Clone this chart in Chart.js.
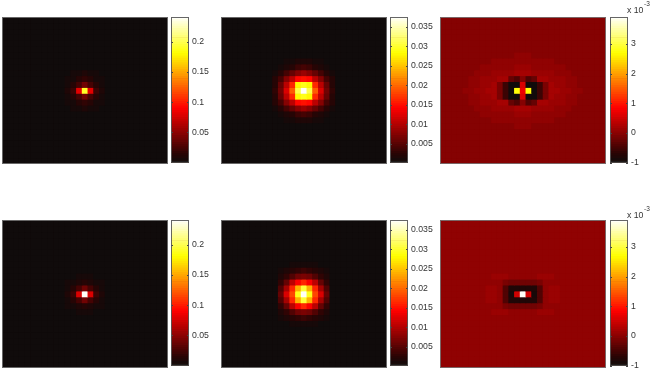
<!DOCTYPE html>
<html><head><meta charset="utf-8">
<style>
html,body{margin:0;padding:0;background:#fff;width:654px;height:374px;overflow:hidden}
canvas{position:absolute;display:block}
canvas.cells{filter:blur(.35px)}
</style>
<script src="https://cdn.jsdelivr.net/npm/chart.js@4"></script>
</head><body>
<script>
const colCount = 29, rowCount = 25;
const colLabels = Array.from({length: colCount}, (_, i) => String(i + 1));

// Panel 1 (top-left), central cells; every other cell holds base1
const base1 = 0.0005;
const patch1 = [
 [.002,.004,.005,.008,.005,.004,.002],
 [.004,.007,.012,.018,.012,.007,.004],
 [.006,.012,.026,.04,.026,.012,.006],
 [.008,.02,.08,.19,.08,.02,.008],
 [.006,.012,.026,.04,.026,.012,.006],
 [.004,.007,.012,.018,.012,.007,.004],
 [.002,.004,.005,.008,.005,.004,.002]
];
// Panel 2 (top-middle)
const base2 = 0.0003;
const patch2 = [
 [.0004,.0005,.0008,.001,.0014,.0016,.0014,.001,.0008,.0005,.0004],
 [.0007,.001,.0018,.0025,.0032,.0038,.0032,.0025,.0018,.001,.0007],
 [.001,.002,.0038,.0055,.0075,.0085,.0075,.0055,.0038,.002,.001],
 [.002,.0038,.0075,.0105,.0145,.015,.0145,.0105,.0075,.0038,.002],
 [.0025,.0055,.0105,.016,.028,.029,.028,.016,.0105,.0055,.0025],
 [.003,.0065,.012,.019,.031,.037,.031,.019,.012,.0065,.003],
 [.0025,.0055,.0105,.016,.028,.029,.028,.016,.0105,.0055,.0025],
 [.002,.0038,.0075,.0105,.0145,.015,.0145,.0105,.0075,.0038,.002],
 [.001,.002,.0038,.0055,.0075,.0085,.0075,.0055,.0038,.002,.001],
 [.0007,.001,.0018,.0025,.0032,.0038,.0032,.0025,.0018,.001,.0007],
 [.0004,.0005,.0008,.001,.0014,.0016,.0014,.001,.0008,.0005,.0004]
];
// Panel 3 (top-right), units of 1e-3
const o = -.06, p = -.01, q = .06, r = .14, s = .22;
const rowA = [p,p,p,p,p,p,p,o,o,o,o,o,o,o,o,o,o,o,o,o,o,o,p,p,p,p,p,p,p];
const rowB = [p,p,p,p,o,o,o,o,o,o,o,o,o,o,o,o,o,o,o,o,o,o,o,o,o,p,p,p,p];
const rowC = [p,p,o,o,o,o,o,o,o,o,o,o,o,o,o,o,o,o,o,o,o,o,o,o,o,o,o,p,p];
const rowD = [p,o,o,o,o,o,o,o,o,o,o,o,o,o,o,o,o,o,o,o,o,o,o,o,o,o,o,o,p];
const rowE = [o,o,o,o,o,o,o,o,o,o,o,o,o,o,o,o,o,o,o,o,o,o,o,o,o,o,o,o,o];
const row6 = [o,o,o,o,o,o,o,o,o,o,o,o,o,q,q,q,o,o,o,o,o,o,o,o,o,o,o,o,o];
const row7 = [o,o,o,o,o,o,o,o,o,q,q,q,q,q,q,q,q,q,q,q,o,o,o,o,o,o,o,o,o];
const row8 = [o,o,o,o,o,o,o,q,q,q,q,q,q,r,r,r,q,q,q,q,q,q,o,o,o,o,o,o,o];
const row9 = [o,o,o,o,o,o,q,q,q,r,r,r,r,s,s,s,r,r,r,r,q,q,q,o,o,o,o,o,o];
const row10 = [o,o,o,o,o,q,q,r,r,r,s,s,-.25,-.45,-.05,-.45,-.25,s,s,r,r,r,q,q,o,o,o,o,o];
const row11 = [o,o,o,o,o,q,q,r,r,s,-.15,-.6,-.95,-.95,.55,-.95,-.95,-.6,-.15,s,r,r,q,q,o,o,o,o,o];
const row12 = [o,o,o,o,q,q,r,r,s,s,-.15,-.6,-.95,2.75,.75,2.75,-.95,-.6,-.15,s,s,r,r,q,q,o,o,o,o];
const grid3 = [rowA,rowB,rowC,rowD,rowE,rowE,row6,row7,row8,row9,row10,row11,row12,row11,row10,row9,row8,row7,row6,rowE,rowE,rowE,rowD,rowC,rowA];
// Panel 4 (bottom-left)
const base4 = 0.0005;
const patch4 = [
 [.002,.003,.004,.006,.004,.003,.002],
 [.004,.006,.01,.014,.01,.006,.004],
 [.006,.012,.025,.038,.025,.012,.006],
 [.008,.02,.078,.24,.078,.02,.008],
 [.006,.012,.025,.038,.025,.012,.006],
 [.004,.006,.01,.014,.01,.006,.004],
 [.002,.003,.004,.006,.004,.003,.002]
];
// Panel 5 (bottom-middle)
const base5 = 0.0003;
const patch5 = [
 [.0005,.0006,.0008,.001,.0012,.001,.0008,.0006,.0005],
 [.0009,.0014,.002,.0028,.0032,.0028,.002,.0014,.0009],
 [.0018,.003,.0045,.0062,.007,.0062,.0045,.003,.0018],
 [.0028,.0058,.0105,.014,.016,.014,.0105,.0058,.0028],
 [.0045,.009,.016,.024,.03,.024,.016,.009,.0045],
 [.006,.012,.018,.029,.0375,.029,.018,.012,.006],
 [.0045,.009,.016,.024,.03,.024,.016,.009,.0045],
 [.0028,.0058,.0105,.014,.016,.014,.0105,.0058,.0028],
 [.0018,.003,.0045,.0062,.007,.0062,.0045,.003,.0018],
 [.0009,.0014,.002,.0028,.0032,.0028,.002,.0014,.0009],
 [.0005,.0006,.0008,.001,.0012,.001,.0008,.0006,.0005]
];
// Panel 6 (bottom-right), units of 1e-3
const base6 = 0;
const patch6 = [
 [0,.1,.1,.1,0,0,0,0,0,.1,.1,.1,0],
 [0,0,0,-.1,-.2,-.2,-.2,-.2,-.2,-.1,0,0,0],
 [.1,.1,0,-.45,-.8,-.8,-.8,-.8,-.8,-.45,0,.1,.1],
 [.1,.1,0,-.45,-.85,.47,3.9,.47,-.85,-.45,0,.1,.1],
 [.1,.1,0,-.45,-.8,-.8,-.8,-.8,-.8,-.45,0,.1,.1],
 [0,0,0,-.1,-.2,-.2,-.2,-.2,-.2,-.1,0,0,0],
 [0,.1,.1,.1,0,0,0,0,0,.1,.1,.1,0]
];

// Colour bars
const range1 = [0, 0.2407], range2 = [0.0002, 0.0375], range3 = [-1, 3.9];
const ticks1 = [0.05, 0.1, 0.15, 0.2];
const ticks2 = [0.005, 0.01, 0.015, 0.02, 0.025, 0.03, 0.035];
const ticks3 = [-1, 0, 1, 2, 3];
const levelCount = 64;
const colourStops = [[0,[12,12,12]],[.06,[41,4,4]],[.375,[255,0,0]],[.75,[255,255,0]],[1,[255,255,255]]];

function colourAt(t) {
  t = Math.max(0, Math.min(.9999, t));
  t = (Math.floor(t * levelCount) + .5) / levelCount;
  for (let i = 1; i < colourStops.length; i++) {
    const [a, ca] = colourStops[i-1], [b, cb] = colourStops[i];
    if (t <= b) {
      const f = (t - a) / (b - a);
      return `rgb(${ca.map((c, k) => Math.round(c + (cb[k] - c) * f)).join(',')})`;
    }
  }
  return 'rgb(255,255,255)';
}
function expand(base, patch) {
  const top = (rowCount - patch.length) / 2, left = (colCount - patch[0].length) / 2;
  return Array.from({length: rowCount}, (_, y) => Array.from({length: colCount}, (_, x) => {
    const row = patch[y - top];
    return row && row[x - left] !== undefined ? row[x - left] : base;
  }));
}
function place(x, y, w, h, cls) {
  const c = document.createElement('canvas');
  c.width = w; c.height = h;
  if (cls) c.className = cls;
  c.style.left = x + 'px'; c.style.top = y + 'px';
  c.style.width = w + 'px'; c.style.height = h + 'px';
  document.body.appendChild(c);
  return c;
}
const frame = colour => ({
  id: 'frame',
  afterDraw(chart) {
    const a = chart.chartArea, g = chart.ctx;
    g.save(); g.strokeStyle = colour; g.lineWidth = 1;
    g.strokeRect(a.left + .5, a.top + .5, a.right - a.left - 1, a.bottom - a.top - 1);
    g.restore();
  }
});
const backdrop = colour => ({
  id: 'backdrop',
  beforeDatasetsDraw(chart) {
    const a = chart.chartArea, g = chart.ctx;
    g.save(); g.fillStyle = colour;
    g.fillRect(a.left, a.top, a.right - a.left, a.bottom - a.top);
    g.restore();
  }
});
function heatmap(x, y, w, h, grid, range, baseValue) {
  const tone = v => colourAt((v - range[0]) / (range[1] - range[0]));
  const datasets = grid.map((row, ri) => ({
    data: row.map(() => [ri, ri + 1]),
    backgroundColor: row.map(tone),
    borderWidth: 0, categoryPercentage: 1, barPercentage: 1, grouped: false
  }));
  new Chart(place(x, y, w, h, 'cells'), {
    type: 'bar',
    data: {labels: colLabels, datasets},
    options: {
      responsive: false, animation: false, devicePixelRatio: 1,
      plugins: {legend: {display: false}, tooltip: {enabled: false}},
      layout: {padding: 0},
      scales: {
        x: {display: false},
        y: {display: false, min: 0, max: rowCount, reverse: true}
      }
    },
    plugins: [backdrop(tone(baseValue)), frame('rgba(120,120,120,.85)')]
  });
}
function colourbar(x, y, h, range, ticks, noteY) {
  const padTop = 16, padBottom = 6, barW = 18, axisW = 34;
  const step = (range[1] - range[0]) / levelCount;
  const datasets = Array.from({length: levelCount}, (_, i) => ({
    data: [[range[0] + i * step, range[0] + (i + 1) * step]],
    backgroundColor: colourAt((i + .5) / levelCount),
    borderWidth: 0, categoryPercentage: 1, barPercentage: 1, grouped: false
  }));
  const marks = {
    id: 'marks',
    afterDraw(chart) {
      const a = chart.chartArea, g = chart.ctx, sc = chart.scales.y;
      g.save(); g.strokeStyle = '#444'; g.lineWidth = 1;
      ticks.forEach(v => {
        const py = Math.round(sc.getPixelForValue(v)) + .5;
        g.beginPath();
        g.moveTo(a.left, py); g.lineTo(a.left + 2, py);
        g.moveTo(a.right, py); g.lineTo(a.right - 2, py);
        g.stroke();
      });
      g.restore();
      if (noteY !== undefined) {
        g.save(); g.fillStyle = '#333'; g.textBaseline = 'alphabetic';
        g.font = '8.7px "Liberation Sans"';
        g.fillText('x 10', a.left + 17, a.top - noteY);
        g.font = '6.5px "Liberation Sans"';
        g.fillText('-3', a.left + 34, a.top - noteY - 7);
        g.restore();
      }
    }
  };
  new Chart(place(x, y - padTop, barW + axisW, h + padTop + padBottom), {
    type: 'bar',
    data: {labels: ['bar'], datasets},
    options: {
      responsive: false, animation: false, devicePixelRatio: 1,
      plugins: {legend: {display: false}, tooltip: {enabled: false}},
      layout: {padding: {top: padTop, bottom: padBottom, left: 0, right: 0}},
      scales: {
        x: {display: false},
        y: {
          position: 'right', min: range[0], max: range[1],
          grid: {display: false, drawTicks: false, tickLength: 0}, border: {display: false},
          afterBuildTicks: sc => { sc.ticks = ticks.map(value => ({value})); },
          afterFit: sc => { sc.width = axisW; },
          ticks: {
            padding: 3, color: '#333', autoSkip: false,
            font: {family: '"Liberation Sans"', size: 8.7},
            callback: v => String(v)
          }
        }
      }
    },
    plugins: [backdrop('#a03000'), marks, frame('rgba(85,85,85,.9)')]
  });
}

const tops = [17, 220], panelH = [147, 148], barH = [148, 148];
heatmap(2, tops[0], 166, panelH[0], expand(base1, patch1), range1, base1);
heatmap(221, tops[0], 166, panelH[0], expand(base2, patch2), range2, base2);
heatmap(440, tops[0], 166, panelH[0], grid3, range3, o);
heatmap(2, tops[1], 166, panelH[1], expand(base4, patch4), range1, base4);
heatmap(221, tops[1], 166, panelH[1], expand(base5, patch5), range2, base5);
heatmap(440, tops[1], 166, panelH[1], expand(base6, patch6), range3, base6);
colourbar(171, tops[0], barH[0], range1, ticks1);
colourbar(390, tops[0], barH[0], range2, ticks2);
colourbar(610, tops[0], barH[0], range3, ticks3, 4);
colourbar(171, tops[1], barH[1], range1, ticks1);
colourbar(390, tops[1], barH[1], range2, ticks2);
colourbar(610, tops[1], barH[1], range3, ticks3, 2);
</script>
</body></html>
